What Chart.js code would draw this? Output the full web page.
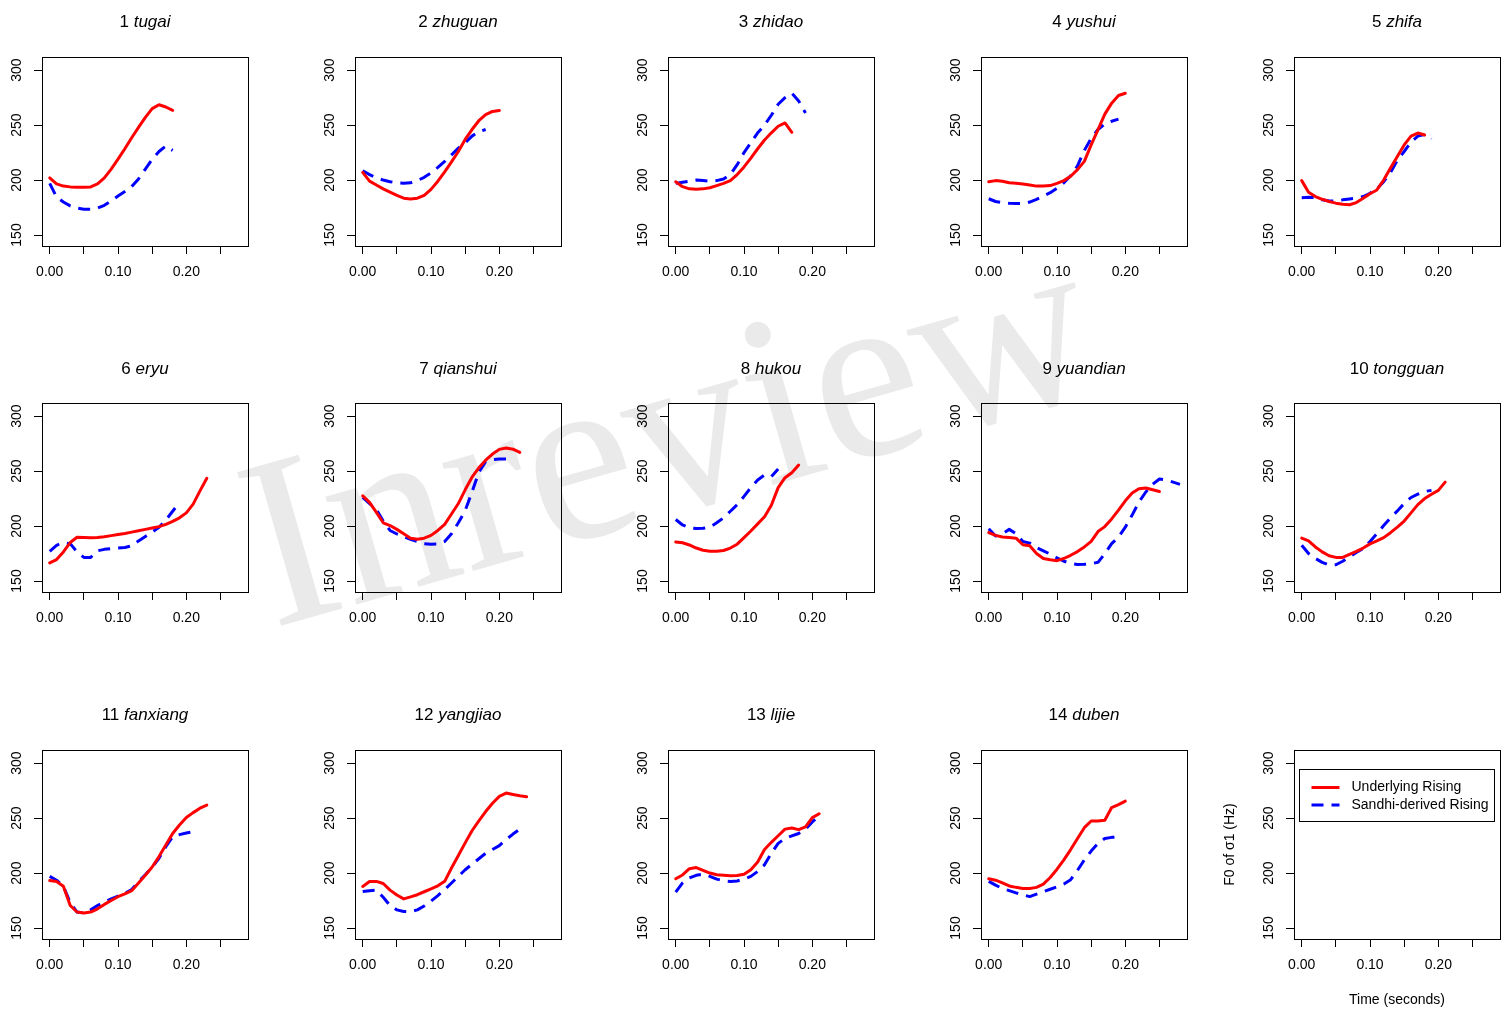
<!DOCTYPE html>
<html><head><meta charset="utf-8">
<script src="https://cdn.jsdelivr.net/npm/chart.js@4.4.1/dist/chart.umd.min.js"></script>
<style>
html,body{margin:0;padding:0;background:#fff}
body{width:1510px;height:1012px;overflow:hidden;position:relative;font-family:"Liberation Sans",Arial,sans-serif;color:#000}
canvas{position:absolute}
.ttl{position:absolute;font-size:17px;white-space:nowrap;transform:translate(-50%,-50%);line-height:1}
.wm{position:absolute;left:667px;top:430px;transform:translate(-50%,-50%) rotate(-16deg);font-family:"Liberation Serif","Times New Roman",serif;font-size:244px;color:#eaeaea;white-space:nowrap;line-height:1}
</style></head><body>
<div class="wm">Inreview</div>
<script>
// ---------------- data ----------------
const times = [0,0.01,0.02,0.03,0.04,0.05,0.06,0.07,0.08,0.09,0.10,0.11,0.12,0.13,0.14,0.15,0.16,0.17,0.18,0.19,0.20,0.21,0.22,0.23,0.24,0.25,0.26,0.27,0.28];
const panelNumbers = ['1','2','3','4','5','6','7','8','9','10','11','12','13','14'];
const panelWords = ['tugai','zhuguan','zhidao','yushui','zhifa','eryu','qianshui','hukou','yuandian','tongguan','fanxiang','yangjiao','lijie','duben'];
const seriesLabels = ['Underlying Rising','Sandhi-derived Rising'];
const xTicks = [0,0.05,0.10,0.15,0.20,0.25];
const xTickLabels = ['0.00','','0.10','','0.20',''];
const yTicks = [150,200,250,300];
const yTickLabels = ['150','200','250','300'];
const xAxisTitle = 'Time (seconds)';
const yAxisTitle = 'F0 of \u03c31 (Hz)';

const red1 = [202,196.5,194.5,193.8,193.5,193.5,193.8,196.5,202,210,219,228.5,238.5,248,257,265,268.5,266.5,263.5];
const blue1 = [197,184.5,180,176.5,174.5,173.5,173.4,174.5,177,181,185.5,189.5,194,201,210,219,226,231,227];
const red2 = [207,199,195.5,192,189,186,183.5,182.8,183.5,186,191.5,199,207.5,216.5,226,237,246,254,259.5,262.5,263.3];
const blue2 = [208.5,205,202,200,198.5,197.5,197,197.5,199.5,202.5,206.5,211.5,217,223,229,234,240,244,246];
const red3 = [198.5,194,192,191.7,192,193,195,197,199.5,205,212,220,228.5,236.5,243,249,252,243.5];
const blue3 = [197,198,199,200,199.5,199,199.5,201,205,214,225,234,243,250,259,269,275,279,272,261];
const red4 = [198.5,199.5,199,197.5,197,196.5,195.5,194.5,194.5,195,197,199.5,203.5,209.5,217,232,246,260,270,277,279];
const blue4 = [183,180.5,179.5,178.8,178.6,178.6,180,182.5,185.5,188.5,192.5,197.5,204,213,227,238,246,251,253.5,255.5];
const red5 = [199.5,189,185,182.5,180.5,179,178,177.5,179.5,183.5,187.5,191,200,211,221.5,232,240,242.8,241];
const blue5 = [184,184.3,184,182,181,180.8,182,182.8,183.5,185,188,192,198.5,207,218,226,234.5,240,241.5,237.5];
const red6 = [166.5,169.5,176.5,185,189.8,189.5,189.3,189.5,190.3,191.3,192.3,193.3,194.5,195.8,197,198.3,199.5,201.5,204.3,207.5,212,220,232,243.5];
const blue6 = [177,182.5,185,184,176.5,171.5,171.5,177.5,178.8,179.5,180,180.5,182,186.5,190.5,194.5,199,205.5,213.5,221.5];
const red7 = [227.5,221.5,212.5,203,200.5,197,193,189,188,189,191.5,196,201.5,211,220.5,233,244.5,253,260,265.5,269.8,271,270,267];
const blue7 = [226,220.5,215,204.5,196,192.8,190.3,188,186,184,183.5,183.6,186,193,203,214,231,249,258.5,260.5,261,261];
const red8 = [185.6,184.8,182.8,180,178,177,177,177.8,180,183.5,189.5,195.5,202,208.5,219,235,244,248.5,255.5];
const blue8 = [206,201,198.5,197.8,198,199,203,207.5,213.5,219.5,227,235,242,246.5,245,252];
const red9 = [194,191.5,190,189.5,189,183,182,175,170.5,169.3,168.5,170.5,173.4,176.8,181,186,195,199.5,206.5,214.5,223,230,234,234.6,233,231.5];
const blue9 = [197.5,191,193,197,193,186,184.5,180.5,177.5,174.5,171,168,166,165,165.2,165.8,167,175,184,190,199,210,222,231,238,242.8,242,240,238];
const red10 = [189,186.5,181,176.5,173,171.5,171.5,174.3,177,180,183.8,186.5,189.5,194,199,204.6,212,219.5,225,229,232.5,240];
const blue10 = [182.5,175,170.5,167,164.5,164.8,168,172,176,179.6,186,193,200.5,207.5,213.8,220.5,226,229,231.5,232.5];
const red11 = [193.3,192.4,188,170.5,164.6,163.6,164.5,167.5,171.5,175,178.5,181,184,191,198,205.5,215,225.5,236,243.8,250.5,255,259,261.8];
const blue11 = [197,193.5,188,173,164.5,163.6,166.5,170.5,173.5,176.5,179,181.5,185,192,198.5,205.5,213.5,224,233,235,236.5,237.6];
const red12 = [187.8,192.4,192.4,190.5,184.5,180,176.5,178.3,180.3,183,185.6,188.4,192.5,204.6,216,227.5,238.5,247.5,256,263.5,269.8,272.8,271.5,270.3,269.4];
const blue12 = [183.2,184,184.5,178,170.5,166.5,165,164.8,166.5,170,174.5,179.5,185,191,197,203,208,213,218,221.5,225,230.5,235.5,240];
const red13 = [194.8,198.3,204,205,202.5,200,198.5,198,197.6,197.8,199,203,210,221.4,228,234,240,241,239.5,242,250.5,254];
const blue13 = [182.6,191,195.5,198,199,197,194.5,193,192.4,192.8,194.5,197,201.5,207.5,218,227,231.5,233.8,236,240,246.5,252];
const red14 = [194.8,193.5,191,188.3,187,186,185.9,187,190,196,203.5,212,221.4,231.5,241.3,247.4,247.4,248,259.6,262.3,265.5];
const blue14 = [192.4,189,186,184,182,180.2,178.6,180.8,183,185.3,187.5,190,194,202.5,212,220,227,231.5,232.5,233];

const redSeries = [red1,red2,red3,red4,red5,red6,red7,red8,red9,red10,red11,red12,red13,red14];
const blueSeries = [blue1,blue2,blue3,blue4,blue5,blue6,blue7,blue8,blue9,blue10,blue11,blue12,blue13,blue14];

// ---------------- layout ----------------
const colLeft = [0,313,626,939,1210], colWidth = [313,313,313,313,300], yAxisW = [42,42,42,42,84];
const rowTop = [0,346,693], rowHeight = [346,347,319];
const BOX_TOP = 57, BOX_BOTTOM = 246, BOX_W = 206;
const FONT = '"Liberation Sans", Arial, sans-serif';
const RED = '#ff0000', BLUE = '#0000ff';

const boxPlugin = {
  id: 'plotBox',
  afterDraw(chart) {
    const {ctx, chartArea: a} = chart;
    ctx.save();
    ctx.strokeStyle = '#000'; ctx.lineWidth = 1;
    ctx.strokeRect(Math.round(a.left) + 0.5, Math.round(a.top) + 0.5, Math.round(a.right - a.left), Math.round(a.bottom - a.top));
    ctx.restore();
  }
};

const boxLegendPlugin = {
  id: 'boxLegend',
  afterDraw(chart) {
    const {ctx, chartArea: a} = chart;
    const L = Math.round(a.left) + 5.5, T = Math.round(a.top) + 19.5, W = 195, H = 52;
    ctx.save();
    ctx.strokeStyle = '#000'; ctx.lineWidth = 1;
    ctx.strokeRect(L, T, W, H);
    ctx.font = '14px ' + FONT; ctx.fillStyle = '#000'; ctx.textBaseline = 'middle'; ctx.textAlign = 'left';
    chart.data.datasets.forEach((ds, i) => {
      const y = T + 18 + i * 17.5;
      ctx.beginPath();
      ctx.strokeStyle = ds.borderColor; ctx.lineWidth = ds.borderWidth;
      ctx.setLineDash(ds.borderDash || []);
      ctx.moveTo(L + 12, y); ctx.lineTo(L + 40, y); ctx.stroke();
      ctx.setLineDash([]);
      ctx.fillText(ds.label, L + 52, y);
    });
    ctx.restore();
  }
};

function makeDatasets(r, b) {
  return [
    {label: seriesLabels[0], data: r ? r.map((v, i) => ({x: times[i], y: v})) : [], borderColor: RED, borderWidth: 3,
     pointRadius: 0, tension: 0, fill: false, borderJoinStyle: 'round', borderCapStyle: 'round'},
    {label: seriesLabels[1], data: b ? b.map((v, i) => ({x: times[i], y: v})) : [], borderColor: BLUE, borderWidth: 3,
     borderDash: [12, 8], pointRadius: 0, tension: 0, fill: false, borderJoinStyle: 'round', borderCapStyle: 'butt'}
  ];
}

for (let k = 0; k < 15; k++) {
  const r = Math.floor(k / 5), c = k % 5;
  const isLegend = k === 14;
  const cv = document.createElement('canvas');
  cv.width = colWidth[c]; cv.height = rowHeight[r];
  cv.style.left = colLeft[c] + 'px'; cv.style.top = rowTop[r] + 'px';
  cv.style.width = colWidth[c] + 'px'; cv.style.height = rowHeight[r] + 'px';
  document.body.appendChild(cv);

  const xH = isLegend ? rowHeight[r] - BOX_BOTTOM : 30;
  const padBottom = rowHeight[r] - BOX_BOTTOM - xH;
  const padRight = colWidth[c] - yAxisW[c] - BOX_W;

  new Chart(cv, {
    type: 'line',
    data: {datasets: makeDatasets(isLegend ? null : redSeries[k], isLegend ? null : blueSeries[k])},
    options: {
      responsive: false, animation: false, devicePixelRatio: 1,
      layout: {padding: {left: 0, top: BOX_TOP, right: padRight, bottom: padBottom}},
      plugins: {legend: {display: false}, tooltip: {enabled: false}, title: {display: false}},
      events: [],
      scales: {
        x: {
          type: 'linear', min: -0.0113, max: 0.2903,
          afterBuildTicks: s => { s.ticks = xTicks.map(v => ({value: v})); },
          afterFit: s => { s.height = xH; },
          ticks: {autoSkip: false, maxRotation: 0, minRotation: 0, padding: 10, color: '#000',
                  font: {family: FONT, size: 14}, callback: (v, i) => xTickLabels[i]},
          grid: {drawOnChartArea: false, drawTicks: true, tickLength: 8, color: '#000', lineWidth: 1},
          border: {display: true, color: '#000', width: 1},
          title: {display: isLegend, text: xAxisTitle, color: '#000', font: {family: FONT, size: 14},
                  padding: {top: 0, bottom: 3}}
        },
        y: {
          type: 'linear', min: 140, max: 312,
          afterBuildTicks: s => { s.ticks = yTicks.map(v => ({value: v})); },
          afterFit: s => { s.width = yAxisW[c]; },
          ticks: {autoSkip: false, minRotation: 90, maxRotation: 90, crossAlign: 'center', padding: 5, color: '#000',
                  font: {family: FONT, size: 14}, callback: (v, i) => yTickLabels[i]},
          grid: {drawOnChartArea: false, drawTicks: true, tickLength: 8, color: '#000', lineWidth: 1},
          border: {display: true, color: '#000', width: 1},
          title: {display: isLegend, text: yAxisTitle, color: '#000', font: {family: FONT, size: 14},
                  padding: {top: 12, bottom: 0}}
        }
      }
    },
    plugins: isLegend ? [boxPlugin, boxLegendPlugin] : [boxPlugin]
  });

  if (!isLegend) {
    const t = document.createElement('div');
    t.className = 'ttl';
    t.style.left = (colLeft[c] + yAxisW[c] + BOX_W / 2) + 'px';
    t.style.top = [21, 367.5, 714][r] + 'px';
    t.innerHTML = panelNumbers[k] + ' <i>' + panelWords[k] + '</i>';
    document.body.appendChild(t);
  }
}
</script>
</body></html>
